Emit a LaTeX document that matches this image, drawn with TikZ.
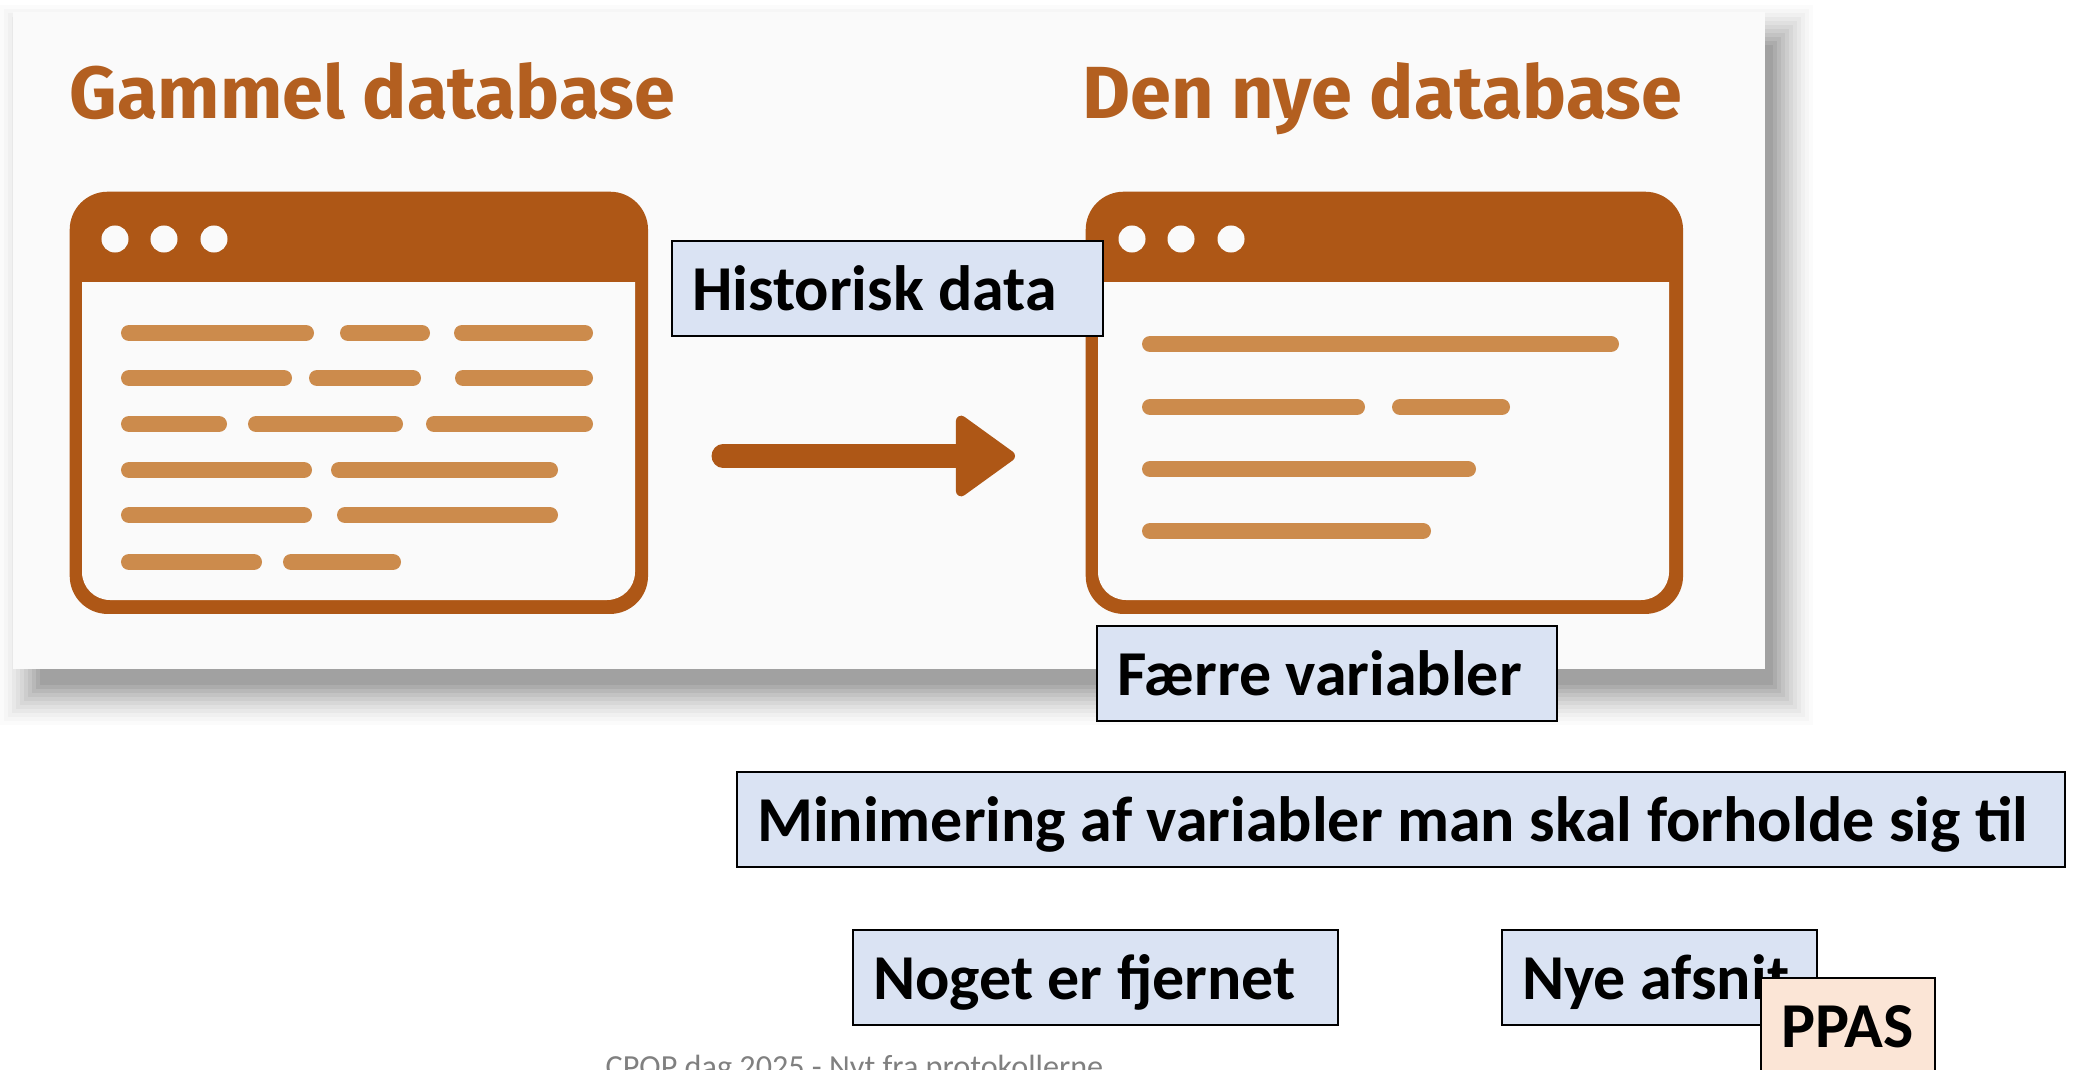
\documentclass[tikz,border=0pt]{standalone}
\usepackage{fontspec}
\setmainfont{Carlito}
\newfontfamily\TitleFont{Fira Sans}
\usetikzlibrary{arrows.meta}
\definecolor{WinBrown}{HTML}{AE5716}
\definecolor{TitleBrown}{HTML}{B35F20}
\definecolor{BarOrange}{HTML}{CC8B4C}
\definecolor{PanelGrey}{HTML}{FAFAFA}
\definecolor{BoxBlue}{HTML}{DAE3F3}
\definecolor{BoxPeach}{HTML}{FBE5D6}
\tikzset{BlueBox/.style={
    anchor=north west,
    inner xsep=0.2cm,
    inner ysep=0pt,
    text height=0.69cm,
    text depth=0.26cm,
    draw=black,
    line width=0.6pt,
    fill=BoxBlue,
    align=flush left,
    font=\fontsize{18.2}{20}\selectfont\bfseries
    }
}
\tikzset{PeachBox/.style={
    BlueBox,
    fill=BoxPeach
    }
}
\tikzset{TitleText/.style={
    anchor=base west,
    inner sep=0pt,
    text=TitleBrown,
    font=\fontsize{21}{24}\selectfont\TitleFont\bfseries
    }
}
\tikzset{WinBox/.style={
    anchor=north west,
    inner sep=0pt,
    minimum height=4.22cm,
    fill=WinBrown,
    rounded corners=0.38cm
    }
}
\tikzset{WinDot/.style={
    circle,
    inner sep=0pt,
    minimum size=0.27cm,
    fill=PanelGrey
    }
}
\tikzset{BarLine/.style={
    draw=BarOrange,
    line width=0.16cm,
    line cap=round
    }
}
\tikzset{BigArrow/.style={
    draw=WinBrown,
    line width=0.23cm,
    line cap=round,
    -{Triangle[round, length=0.63cm, width=0.88cm, line width=3pt]}
    }
}

\begin{document}
\begin{tikzpicture}[x=0.01cm,y=-0.01cm]
    \useasboundingbox (0,0) rectangle (2076,1070);
    \clip (0,0) rectangle (2076,1070);

    % panel with its shadow
    \foreach \Inset in {0,4,...,40}
        \fill[black, opacity={0.015+0.0013*\Inset}] (\Inset,5+\Inset) rectangle (1813-\Inset,725-\Inset);
    \fill[PanelGrey] (13,12) rectangle (1765,669);

    \node (OldTitle) [TitleText] at (69,119) {Gammel database};
    \node (NewTitle) [TitleText] at (1082,119) {Den nye database};

    % old window
    \node (OldWin) [WinBox, minimum width=5.78cm] at (69,191) {};
    \fill[PanelGrey] (82,282) [rounded corners=0.28cm] -- (82,600) -- (635,600) -- (635,400) [sharp corners] -- (635,282) -- cycle;
    \foreach \BarX in {115,164,214}
        \node (OldDot\BarX) [WinDot] at (\BarX,239) {};
    \foreach \BarY/\BarA/\BarB in {333/129/306, 333/348/422, 333/462/585,
                                   378/129/284, 378/317/413, 378/463/585,
                                   424/129/219, 424/256/395, 424/434/585,
                                   470/129/304, 470/339/550,
                                   515/129/304, 515/345/550,
                                   562/129/254, 562/291/393}
        \draw[BarLine] (\BarA,\BarY) -- (\BarB,\BarY);

    % new window
    \node (NewWin) [WinBox, minimum width=5.97cm] at (1085,191) {};
    \fill[PanelGrey] (1098,282) [rounded corners=0.28cm] -- (1098,600) -- (1669,600) -- (1669,400) [sharp corners] -- (1669,282) -- cycle;
    \foreach \BarX in {1132,1181,1231}
        \node (NewDot\BarX) [WinDot] at (\BarX,239) {};
    \foreach \BarY/\BarA/\BarB in {344/1150/1611,
                                   407/1150/1357, 407/1400/1502,
                                   469/1150/1468,
                                   531/1150/1423}
        \draw[BarLine] (\BarA,\BarY) -- (\BarB,\BarY);

    % arrow between the windows
    \coordinate (ArrowA) at (723,456);
    \coordinate (ArrowB) at (1015,456);
    \draw[BigArrow] (ArrowA) -- (ArrowB);

    % text boxes
    \node (Historisk) [BlueBox, text width=3.91cm] at (671,240) {Historisk data};
    \node (Faerre) [BlueBox, text width=4.2cm] at (1096,625) {Færre variabler};
    \node (Minimering) [BlueBox, text width=12.87cm] at (736,771) {Minimering af variabler man skal forholde sig til};
    \node (Noget) [BlueBox, text width=4.45cm] at (852,929) {Noget er fjernet};
    \node (NyeAfsnit) [BlueBox, text width=2.75cm] at (1501,929) {Nye afsnit};
    \node (PPAS) [PeachBox, text width=1.34cm] at (1760,977) {PPAS};

    \node (Footer) [anchor=base west, inner sep=0pt, text=black!50, font=\fontsize{9.15}{11}\selectfont] at (605,1077) {CPOP dag 2025 - Nyt fra protokollerne};
\end{tikzpicture}
\end{document}
